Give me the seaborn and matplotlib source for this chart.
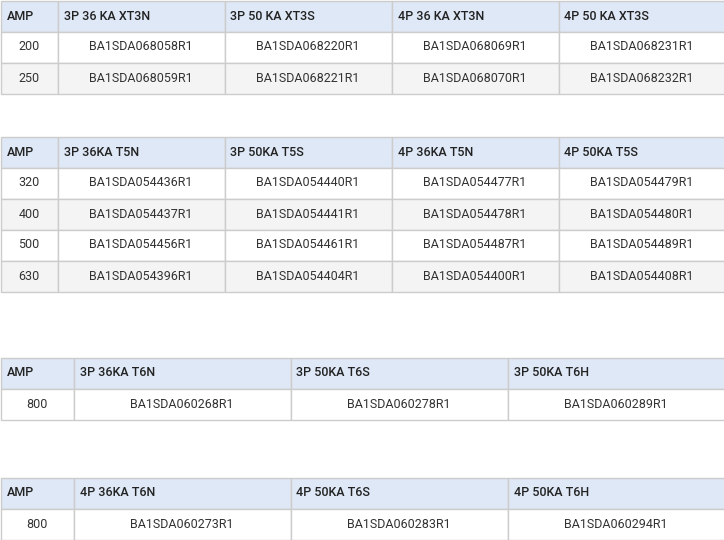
import seaborn as sns
import matplotlib.pyplot as plt
from matplotlib.patches import Rectangle

sns.set_style("white")
plt.rcParams['font.family'] = ['Roboto', 'DejaVu Sans']

# table data
head1 = ['AMP', '3P 36 KA XT3N', '3P 50 KA XT3S', '4P 36 KA XT3N', '4P 50 KA XT3S']
rows1 = [['200', 'BA1SDA068058R1', 'BA1SDA068220R1', 'BA1SDA068069R1', 'BA1SDA068231R1'],
         ['250', 'BA1SDA068059R1', 'BA1SDA068221R1', 'BA1SDA068070R1', 'BA1SDA068232R1']]
head2 = ['AMP', '3P 36KA T5N', '3P 50KA T5S', '4P 36KA T5N', '4P 50KA T5S']
rows2 = [['320', 'BA1SDA054436R1', 'BA1SDA054440R1', 'BA1SDA054477R1', 'BA1SDA054479R1'],
         ['400', 'BA1SDA054437R1', 'BA1SDA054441R1', 'BA1SDA054478R1', 'BA1SDA054480R1'],
         ['500', 'BA1SDA054456R1', 'BA1SDA054461R1', 'BA1SDA054487R1', 'BA1SDA054489R1'],
         ['630', 'BA1SDA054396R1', 'BA1SDA054404R1', 'BA1SDA054400R1', 'BA1SDA054408R1']]
head3 = ['AMP', '3P 36KA T6N', '3P 50KA T6S', '3P 50KA T6H']
rows3 = [['800', 'BA1SDA060268R1', 'BA1SDA060278R1', 'BA1SDA060289R1']]
head4 = ['AMP', '4P 36KA T6N', '4P 50KA T6S', '4P 50KA T6H']
rows4 = [['800', 'BA1SDA060273R1', 'BA1SDA060283R1', 'BA1SDA060294R1']]

widths5 = [57, 167, 167, 167, 166]
widths4 = [73, 217, 217, 217]
tables = [(head1, rows1, widths5, 0), (head2, rows2, widths5, 136),
          (head3, rows3, widths4, 357), (head4, rows4, widths4, 477)]

ROW_H = 31
HEAD_BG = '#dfe8f6'
ALT_BG = '#f4f4f4'
BORDER = '#cccccc'

fig = plt.figure(figsize=(7.24, 5.40), dpi=100)
ax = fig.add_axes([0, 0, 1, 1])
ax.set_xlim(0, 724)
ax.set_ylim(540, 0)
ax.axis('off')


def draw_row(cells, widths, y, bg, header):
    x = 0.5
    for text, w in zip(cells, widths):
        ax.add_patch(Rectangle((x, y), w, ROW_H, facecolor=bg, edgecolor=BORDER, lw=1))
        if header:
            ax.text(x + 6, y + ROW_H / 2, text, ha='left', va='center',
                    fontsize=9, fontweight='medium', color='#222222')
        else:
            ax.text(x + w / 2, y + ROW_H / 2, text, ha='center', va='center',
                    fontsize=9, color='#333333')
        x += w


for head, rows, widths, top in tables:
    draw_row(head, widths, top + 0.5, HEAD_BG, True)
    for i, r in enumerate(rows):
        bg = 'white' if i % 2 == 0 else ALT_BG
        draw_row(r, widths, top + 0.5 + ROW_H * (i + 1), bg, False)

fig.savefig('out.png', dpi=100)
